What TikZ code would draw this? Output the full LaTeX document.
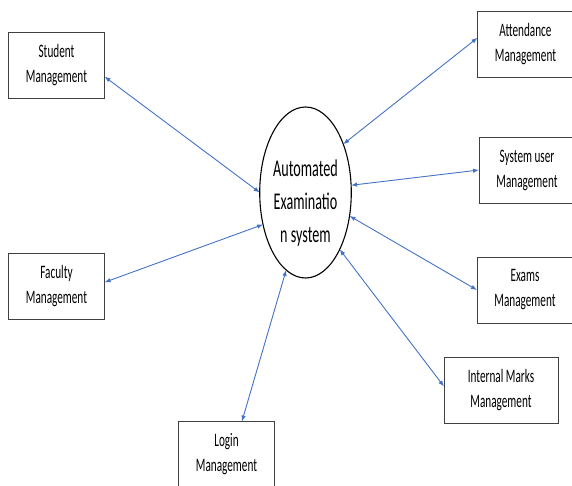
\documentclass[tikz,border=0pt]{standalone}
\usepackage{fontspec}
\setmainfont{Carlito}[FakeStretch=0.59]
\usepackage{tkz-graph}
\usetikzlibrary{arrows.meta}
\usetikzlibrary{shapes}
\definecolor{linkblue}{HTML}{4472C4}

\begin{document}
\begin{tikzpicture}[x = 1pt, y = -1pt]
\tikzstyle{VertexStyle}=[shape = rectangle,
                         draw = black!75,
                         line width = 1pt,
                         align = center,
                         inner sep = 0pt,
                         minimum width = 96pt,
                         minimum height = 66pt,
                         font = \fontsize{19}{25}\selectfont]
\tikzstyle{EdgeStyle}=[linkblue, line width = 0.9pt,
                       {Latex[length=6pt,width=4.5pt]}-{Latex[length=6pt,width=4.5pt]}]
\useasboundingbox (0,0) rectangle (572,485);
\clip (0,0) rectangle (572,485);
\Vertex[x = 56.5, y = 65.5, L = {Student\\Management}]{stud}
\Vertex[x = 56.5, y = 286.5, L = {Faculty\\Management}]{fac}
\Vertex[x = 226.5, y = 454.5, L = {Login\\Management}]{login}
\Vertex[x = 525.5, y = 44.5, L = {Attendance\\Management}]{att}
\Vertex[x = 527, y = 170, L = {System user\\Management}]{sysu}
\Vertex[x = 525, y = 290, L = {Exams\\Management}]{exam}
\tikzstyle{VertexStyle}+=[minimum width = 114pt]
\Vertex[x = 501, y = 390.5, L = {Internal Marks\\Management}]{marks}
\tikzstyle{VertexStyle}=[shape = ellipse,
                         draw = black,
                         line width = 1.1pt,
                         align = center,
                         inner sep = 0pt,
                         minimum width = 85pt,
                         minimum height = 171pt,
                         font = \fontsize{24}{33}\selectfont]
\Vertex[x = 305.5, y = 192.5, L = {\rule{0pt}{38pt}Automated\\Examinatio\\n system}]{aes}
\draw[EdgeStyle] (stud.-13) -- (aes.180);
\draw[EdgeStyle] (fac.5) -- (aes.217);
\draw[EdgeStyle] (login.65) -- (aes.256);
\draw[EdgeStyle] (att.172) -- (aes.52);
\draw[EdgeStyle] (sysu.180) -- (aes.9);
\draw[EdgeStyle] (exam.180) -- (aes.-28);
\draw[EdgeStyle] (marks.176) -- (aes.-59);
\end{tikzpicture}
\end{document}
